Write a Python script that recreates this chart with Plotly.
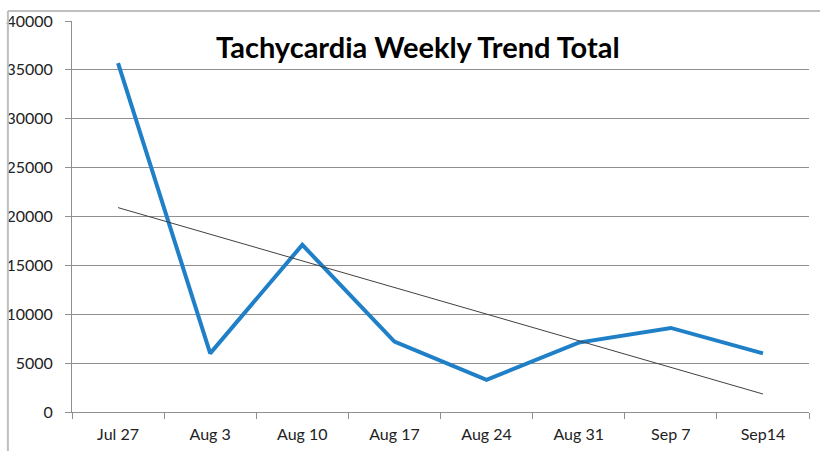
import numpy as np
import plotly.graph_objects as go

weeks = ["Jul 27", "Aug 3", "Aug 10", "Aug 17", "Aug 24", "Aug 31", "Sep 7", "Sep14"]
totals = [35700, 6000, 17100, 7200, 3300, 7100, 8600, 6000]
y_ticks = [0, 5000, 10000, 15000, 20000, 25000, 30000, 35000, 40000]

idx = np.arange(len(totals))
slope, intercept = np.polyfit(idx, totals, 1)
trend = slope * idx + intercept

fig = go.Figure()
fig.add_trace(go.Scatter(x=weeks, y=totals, mode="lines",
                         line=dict(color="#1F80C8", width=4), showlegend=False))
fig.add_trace(go.Scatter(x=weeks, y=trend, mode="lines",
                         line=dict(color="#404040", width=1), showlegend=False))

font_family = "Lato, 'Open Sans', sans-serif"
fig.update_layout(
    width=820, height=451,
    margin=dict(l=72, r=11, t=21, b=39),
    paper_bgcolor="white", plot_bgcolor="white",
    font=dict(family=font_family, size=16, color="#222222"),
    xaxis=dict(type="category", tickson="boundaries", ticks="outside", ticklen=6,
               tickcolor="#909090", showline=True, linecolor="#909090", linewidth=1,
               showgrid=False, range=[-0.5, 7.5], tickfont=dict(size=16),
               ticklabelstandoff=8, automargin=False),
    yaxis=dict(range=[0, 40000], tickvals=y_ticks, ticktext=[str(v) for v in y_ticks],
               ticks="outside", ticklen=6, tickcolor="#909090",
               showline=True, linecolor="#909090", linewidth=1,
               showgrid=True, gridcolor="#909090", gridwidth=1,
               zeroline=False, tickfont=dict(size=16), ticklabelstandoff=9,
               automargin=False),
    annotations=[dict(text="<b>Tachycardia Weekly Trend Total</b>", xref="paper", yref="paper",
                      x=0.47, y=0.935, xanchor="center", yanchor="middle", showarrow=False,
                      font=dict(size=29, color="black", family=font_family))],
    shapes=[
        dict(type="line", xref="paper", yref="paper", x0=-0.087, x1=-0.087, y0=-0.2, y1=1.0255,
             line=dict(color="#BFBFBF", width=2)),
        dict(type="line", xref="paper", yref="paper", x0=-0.087, x1=1.1, y0=1.0255, y1=1.0255,
             line=dict(color="#BFBFBF", width=2)),
    ],
)

fig.write_html("out.html", config={"displayModeBar": False})
with open("out.html", "r", encoding="utf-8") as f:
    html = f.read()
html = html.replace("<head>", "<head><style>html,body{margin:0;padding:0;overflow:hidden;}</style>", 1)
with open("out.html", "w", encoding="utf-8") as f:
    f.write(html)
